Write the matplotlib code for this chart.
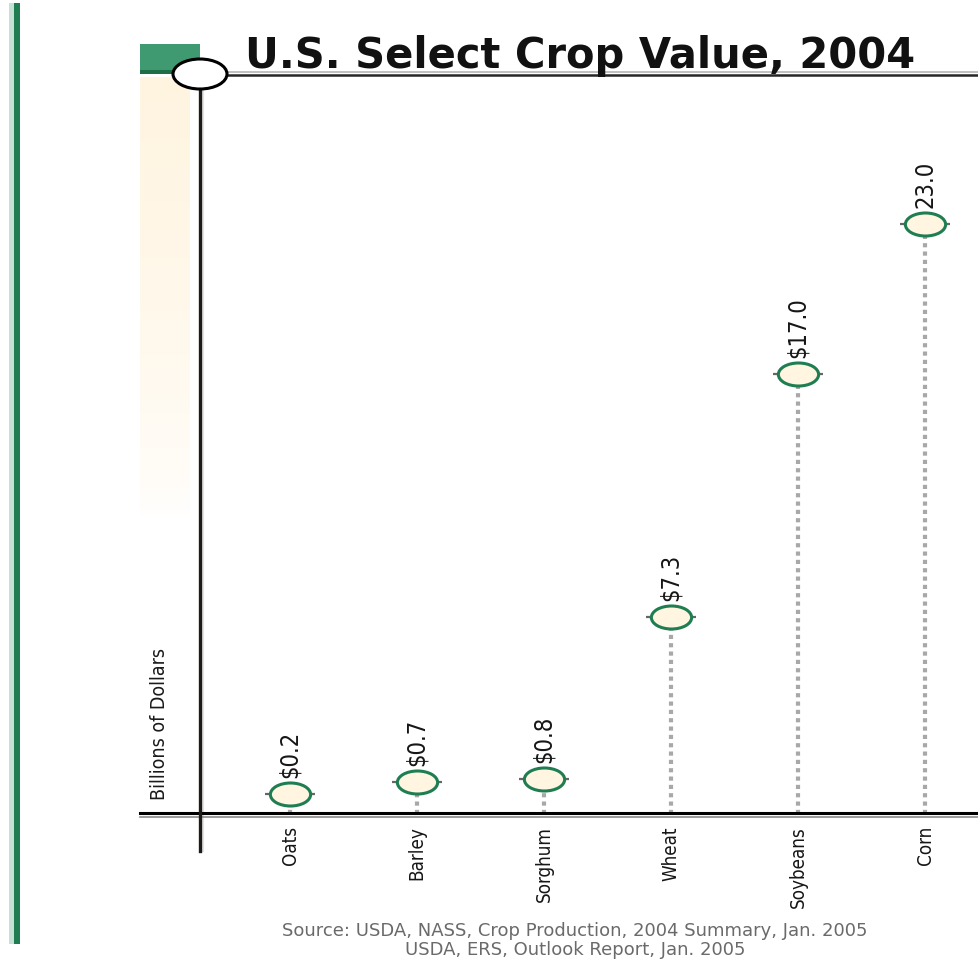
import numpy as np
import matplotlib
matplotlib.use("Agg")
import matplotlib.pyplot as plt
from matplotlib.path import Path
from matplotlib.patches import Rectangle, Ellipse
from matplotlib.lines import Line2D

# crop values, billions of dollars
crops = ["Oats", "Barley", "Sorghum", "Wheat", "Soybeans", "Corn"]
values = [0.2, 0.7, 0.8, 7.3, 17.0, 23.0]
value_labels = ["$0.2", "$0.7", "$0.8", "$7.3", "$17.0", "23.0"]

W, H = 979, 962
GREEN = "#1f7d52"
MID_GREEN = "#3f9a72"
CREAM = "#fff5e1"


def fx(x):
    return x / W


def fy(y):
    return 1 - y / H


fig = plt.figure(figsize=(W / 100, H / 100), dpi=100)
fig.patch.set_facecolor("white")

# main plotting area: x from 200px to the right edge, y from 75px to 815px
ax = fig.add_axes([fx(200), fy(815), fx(W - 200 + 40), (815 - 75) / H])
ax.set_xlim(-0.709, 5.74)
ax.set_ylim(-0.6, 29.0)
ax.axis("off")

x = np.arange(len(crops))

# dotted stems
ax.vlines(x, -0.6, np.array(values) - 0.45, colors="#a8a8a8",
          linestyles=(0, (1, 1)), linewidth=3, zorder=1)

# little horizontal ticks through each marker
ax.plot(x, values, linestyle="none", marker="_", markersize=36,
        markeredgewidth=1.6, color="#666666", zorder=2)

# flattened oval marker
circ = Path.unit_circle()
oval = Path(circ.vertices * np.array([1.75, 1.0]), circ.codes)
ax.plot(x, values, linestyle="none", marker=oval, markersize=29,
        markerfacecolor=CREAM, markeredgecolor=GREEN, markeredgewidth=2.2,
        zorder=3)

for xi, v, lab in zip(x, values, value_labels):
    ax.annotate(lab, (xi, v), xytext=(0, 12), textcoords="offset points",
                rotation=90, ha="center", va="bottom", fontsize=17,
                family="DejaVu Sans", fontstretch="condensed", color="#161616")

for xi, name in zip(x, crops):
    ax.annotate(name, (xi, -0.6), xytext=(0, -8), textcoords="offset points",
                rotation=90, ha="center", va="top", fontsize=13.5,
                family="DejaVu Sans", fontstretch="condensed", color="#161616",
                annotation_clip=False)

# cream band fading down the left side
band = fig.add_axes([fx(140), fy(520), fx(50), (520 - 78) / H])
grad = np.ones((100, 1, 4))
grad[..., 0] = 1.0
grad[..., 1] = 0.96
grad[..., 2] = 0.88
grad[:, 0, 3] = np.linspace(1.0, 0.0, 100) ** 0.6
band.imshow(grad, aspect="auto", extent=[0, 1, 0, 1])
band.axis("off")

# green block behind the title start
fig.add_artist(Rectangle((fx(140), fy(75)), fx(60), 30 / H,
                         transform=fig.transFigure, facecolor=MID_GREEN,
                         edgecolor="none", zorder=2))
fig.add_artist(Rectangle((fx(140), fy(75)), fx(60), 4 / H,
                         transform=fig.transFigure, facecolor="#1d6e47",
                         edgecolor="none", zorder=2))

# left border bar
fig.add_artist(Rectangle((fx(9), fy(945)), fx(5), (945 - 4) / H,
                         transform=fig.transFigure, facecolor="#c6e0d5",
                         edgecolor="none"))
fig.add_artist(Rectangle((fx(14), fy(945)), fx(6), (945 - 4) / H,
                         transform=fig.transFigure, facecolor=GREEN,
                         edgecolor="none"))

# frame lines
fig.add_artist(Line2D([fx(200), 1], [fy(73), fy(73)], color="#b5b5b5", lw=1.2, zorder=3))
fig.add_artist(Line2D([fx(200), 1], [fy(76), fy(76)], color="#262626", lw=1.8, zorder=3))
fig.add_artist(Line2D([fx(140), 1], [fy(814), fy(814)], color="black", lw=2.2, zorder=4))
fig.add_artist(Line2D([fx(140), 1], [fy(817.5), fy(817.5)], color="#8a8a8a", lw=1.2, zorder=4))
fig.add_artist(Line2D([fx(203), fx(203)], [fy(80), fy(852)], color="#e3e3e3", lw=1.5, zorder=3))
fig.add_artist(Line2D([fx(200), fx(200)], [fy(75), fy(852)], color="#1e1a18", lw=2.4, zorder=4))

# open oval at the axis corner
fig.add_artist(Ellipse((fx(200), fy(75)), 54 / W, 30 / H,
                       transform=fig.transFigure, facecolor="white",
                       edgecolor="black", lw=2.2, zorder=5))

fig.text(fx(245), fy(68), "U.S. Select Crop Value, 2004", fontsize=30,
         fontweight="bold", family="DejaVu Sans", ha="left", va="baseline",
         color="#111111")

fig.text(fx(160), fy(800), "Billions of Dollars", rotation=90, fontsize=14,
         family="DejaVu Sans", fontstretch="condensed", ha="center",
         va="bottom", color="#1a1a1a")

fig.text(fx(575), fy(931), "Source: USDA, NASS, Crop Production, 2004 Summary, Jan. 2005",
         fontsize=13, ha="center", va="center", color="#6a6a6a")
fig.text(fx(575), fy(950), "USDA, ERS, Outlook Report, Jan. 2005",
         fontsize=13, ha="center", va="center", color="#6a6a6a")

fig.savefig("out.png", dpi=100)
